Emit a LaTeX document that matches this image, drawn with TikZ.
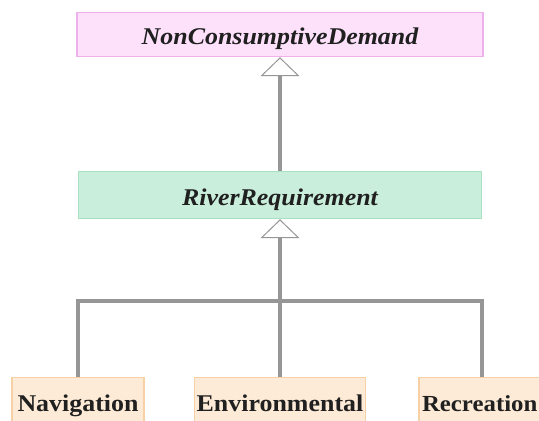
\documentclass[tikz,border=0pt]{standalone}
\usepackage{fontspec}
\setmainfont{Liberation Serif}[FakeStretch=1.08]
\usetikzlibrary{arrows.meta}
\definecolor{pinkfill}{HTML}{FDE1FA}
\definecolor{pinkline}{HTML}{F0B0EA}
\definecolor{greenfill}{HTML}{C9EEDB}
\definecolor{greenline}{HTML}{A8E0C4}
\definecolor{orfill}{HTML}{FDEBD7}
\definecolor{orline}{HTML}{F8D0A6}
\definecolor{conngray}{HTML}{969696}
\definecolor{txt}{HTML}{202020}
\tikzset{
  cls/.style={rectangle, draw, line width=1.2pt, inner sep=0pt, text=txt,
    font=\fontsize{24}{28}\selectfont\bfseries},
  conn/.style={draw=conngray, line width=4pt},
  gen/.style={-{Triangle[open, width=39pt, length=19pt, line width=1pt, fill=white, color=conngray]}}
}
\begin{document}
\begin{tikzpicture}[x=1pt,y=-1pt]
\useasboundingbox (0,0) rectangle (539,421);
\clip (0,0) rectangle (539,421);
\node[cls, fill=pinkfill, draw=pinkline, minimum width=406pt, text height=32pt, text depth=12pt, anchor=north, font=\fontsize{24}{28}\selectfont\bfseries\itshape] (ncd) at (280,12) {NonConsumptiveDemand};
\node[cls, fill=greenfill, draw=greenline, minimum width=403pt, text height=34pt, text depth=13pt, anchor=north, font=\fontsize{24}{28}\selectfont\bfseries\itshape] (rr) at (280,171) {RiverRequirement};
\node[cls, fill=orfill, draw=orline, minimum width=132pt, text height=34pt, text depth=20pt, anchor=north] (nav) at (78,377) {Navigation};
\node[cls, fill=orfill, draw=orline, minimum width=171pt, text height=34pt, text depth=20pt, anchor=north] (env) at (280,377) {Environmental};
\node[cls, fill=orfill, draw=orline, text width=120pt, align=left, inner xsep=3pt, text height=34pt, text depth=20pt, anchor=north, font=\fontsize{23}{28}\selectfont\bfseries] (rec) at (482,377) {Recreation};
\coordinate (j) at (280,301);
\draw[conn] (nav.north) |- (j);
\draw[conn] (rec.north) |- (j);
\draw[conn] (env.north) -- (j);
\draw[conn, gen] (j) -- (rr.south);
\draw[conn, gen] (rr.north) -- (ncd.south);
\end{tikzpicture}
\end{document}
